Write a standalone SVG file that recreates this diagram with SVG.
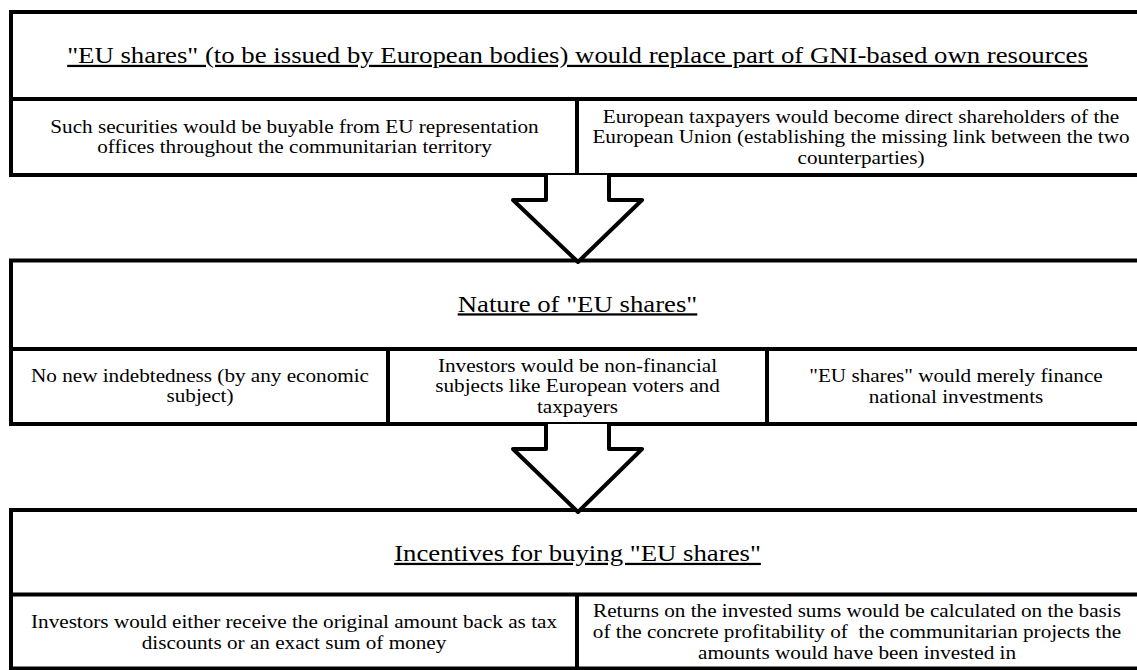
<svg xmlns="http://www.w3.org/2000/svg" width="1137" height="670" viewBox="0 0 1137 670">
<style>
.box{fill:#fff;stroke:#000;stroke-width:4}
.div{stroke:#000;stroke-width:4;fill:none}
.arrow{fill:#fff;stroke:#000;stroke-width:4;stroke-linejoin:round}
text{font-family:"Liberation Serif","Times New Roman",serif;fill:#000;text-anchor:middle}
.title{font-size:22.5px;text-decoration:underline}
.body{font-size:17.8px}
</style>
<rect x="0" y="0" width="1137" height="670" fill="#fff"/>
<g id="box-eu-shares">
<rect class="box" x="11" y="12" width="1134" height="163"/>
<line class="div" x1="11" y1="99" x2="1145" y2="99"/>
<line class="div" x1="577" y1="99" x2="577" y2="175"/>
<text class="title" transform="translate(577.5 63) scale(1.19 1)">"EU shares" (to be issued by European bodies) would replace part of GNI-based own resources</text>
<text class="body" transform="translate(294.5 133) scale(1.19 1)"><tspan x="0" y="0">Such securities would be buyable from EU representation</tspan><tspan x="0" y="20.5">offices throughout the communitarian territory</tspan></text>
<text class="body" transform="translate(861 122.5) scale(1.19 1)"><tspan x="0" y="0">European taxpayers would become direct shareholders of the</tspan><tspan x="0" y="21">European Union (establishing the missing link between the two</tspan><tspan x="0" y="42">counterparties)</tspan></text>
</g>
<g id="box-nature">
<rect class="box" x="11" y="260.5" width="1134" height="163.5"/>
<line class="div" x1="11" y1="349" x2="1145" y2="349"/>
<line class="div" x1="388" y1="349" x2="388" y2="424"/>
<line class="div" x1="767" y1="349" x2="767" y2="424"/>
<text class="title" transform="translate(577.5 311.5) scale(1.19 1)">Nature of "EU shares"</text>
<text class="body" transform="translate(200 382) scale(1.19 1)"><tspan x="0" y="0">No new indebtedness (by any economic</tspan><tspan x="0" y="20.5">subject)</tspan></text>
<text class="body" transform="translate(577.5 371.5) scale(1.19 1)"><tspan x="0" y="0">Investors would be non-financial</tspan><tspan x="0" y="21">subjects like European voters and</tspan><tspan x="0" y="42">taxpayers</tspan></text>
<text class="body" transform="translate(956 382) scale(1.19 1)"><tspan x="0" y="0">"EU shares" would merely finance</tspan><tspan x="0" y="21">national investments</tspan></text>
</g>
<g id="box-incentives">
<rect class="box" x="11" y="510" width="1134" height="158.5"/>
<line class="div" x1="11" y1="594.5" x2="1145" y2="594.5"/>
<line class="div" x1="577" y1="594.5" x2="577" y2="668.5"/>
<text class="title" transform="translate(577.5 561) scale(1.19 1)">Incentives for buying "EU shares"</text>
<text class="body" transform="translate(294 628) scale(1.19 1)"><tspan x="0" y="0">Investors would either receive the original amount back as tax</tspan><tspan x="0" y="21">discounts or an exact sum of money</tspan></text>
<text class="body" transform="translate(857 617) scale(1.19 1)"><tspan x="0" y="0">Returns on the invested sums would be calculated on the basis</tspan><tspan x="0" y="21">of the concrete profitability of&#160; the communitarian projects the</tspan><tspan x="0" y="42">amounts would have been invested in</tspan></text>
</g>
<g id="connectors">
<polyline class="arrow" points="546,175 546,200 513,200 578,262 642,200 609,200 609,175"/>
<polyline class="arrow" points="546,424 546,449 513,449 578,512 642,449 609,449 609,424"/>
</g>
</svg>
